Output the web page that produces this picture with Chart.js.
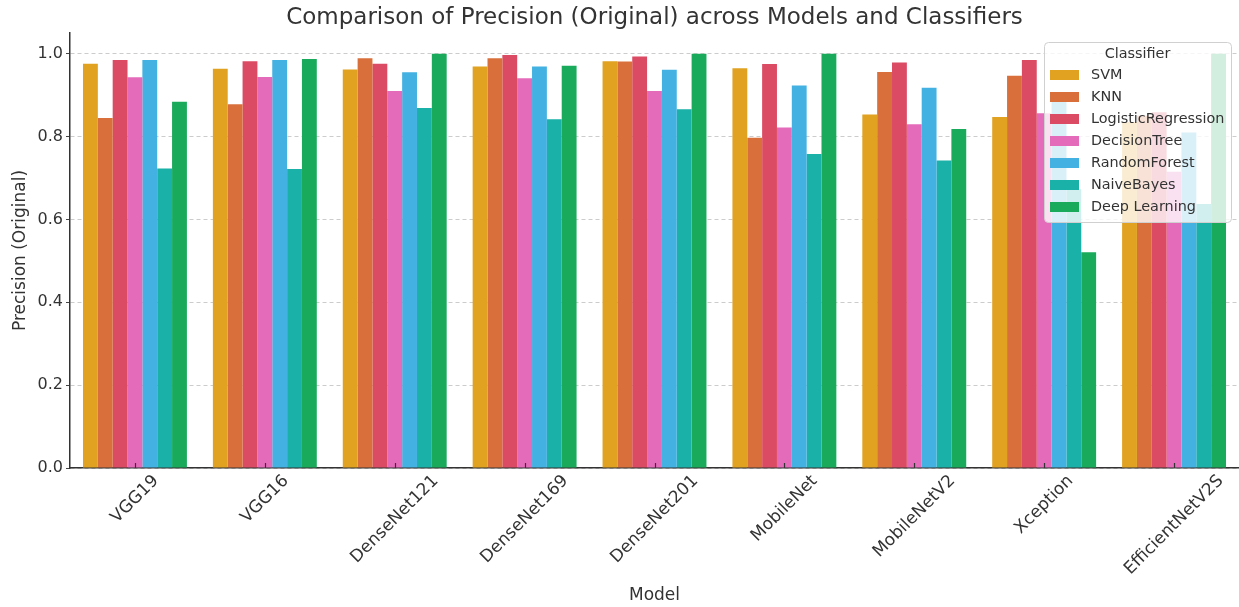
<!DOCTYPE html>
<html>
<head>
<meta charset="utf-8">
<script src="https://cdn.jsdelivr.net/npm/chart.js@4"></script>
<style>
    html, body { margin: 0; padding: 0; background: #fff; }
    #wrap { width: 1239px; height: 607px; }
</style>
</head>
<body>
<div id="wrap"><canvas id="chart" width="1239" height="607"></canvas></div>
<script>
const models = ['VGG19', 'VGG16', 'DenseNet121', 'DenseNet169', 'DenseNet201', 'MobileNet', 'MobileNetV2', 'Xception', 'EfficientNetV2S'];
const classifiers = ['SVM', 'KNN', 'LogisticRegression', 'DecisionTree', 'RandomForest', 'NaiveBayes', 'Deep Learning'];
const yTicks = [0, 0.2, 0.4, 0.6, 0.8, 1.0];

// precision per classifier, one value per model (same order as models)
const svm = [0.976, 0.964, 0.962, 0.969, 0.982, 0.965, 0.853, 0.847, 0.835];
const knn = [0.845, 0.878, 0.989, 0.989, 0.981, 0.797, 0.956, 0.947, 0.850];
const logReg = [0.985, 0.982, 0.976, 0.997, 0.993, 0.975, 0.979, 0.985, 0.859];
const decTree = [0.943, 0.944, 0.910, 0.941, 0.910, 0.822, 0.830, 0.856, 0.715];
const randForest = [0.985, 0.985, 0.955, 0.969, 0.961, 0.923, 0.918, 0.885, 0.810];
const naiveBayes = [0.723, 0.722, 0.869, 0.842, 0.866, 0.758, 0.742, 0.673, 0.637];
const deepLearning = [0.884, 0.987, 1.0, 0.971, 1.0, 1.0, 0.818, 0.521, 1.0];

const seriesValues = [svm, knn, logReg, decTree, randForest, naiveBayes, deepLearning];
const colors = ['#e0a220', '#d9703b', '#dc4b64', '#e46bb9', '#43b2e2', '#19b1a8', '#1aaa5b'];

const FONT = "'DejaVu Sans', sans-serif";
const TITLE = 'Comparison of Precision (Original) across Models and Classifiers';
Chart.defaults.font.family = FONT;
Chart.defaults.color = '#333';

// title centred over the plot, x labels centred on their ticks (matplotlib style)
const extras = {
    id: 'extras',
    afterDraw(chart) {
        const ctx = chart.ctx;
        const area = chart.chartArea;
        const xScale = chart.scales.x;
        ctx.save();

        ctx.fillStyle = '#333';
        ctx.font = `23px ${FONT}`;
        ctx.textAlign = 'center';
        ctx.textBaseline = 'middle';
        ctx.fillText(TITLE, (area.left + area.right) / 2, 18);

        // inward tick marks on the x axis
        ctx.strokeStyle = '#333';
        ctx.lineWidth = 1.2;
        models.forEach((m, i) => {
            const px = Math.round(xScale.getPixelForTick(i)) + 0.5;
            ctx.beginPath();
            ctx.moveTo(px, area.bottom);
            ctx.lineTo(px, area.bottom - 5);
            ctx.stroke();
        });

        ctx.font = `17px ${FONT}`;
        const s = Math.SQRT1_2;
        models.forEach((m, i) => {
            const px = xScale.getPixelForTick(i);
            const w = ctx.measureText(m).width;
            const h = 15;
            const half = (w * s + h * s) / 2;
            ctx.save();
            ctx.translate(px, area.bottom + 5 + half);
            ctx.rotate(-Math.PI / 4);
            ctx.fillText(m, 0, 0);
            ctx.restore();
        });
        ctx.restore();
    }
};

// legend drawn inside the plot, on top of the bars
const overlayLegend = {
    id: 'overlayLegend',
    afterDraw(chart) {
        const ctx = chart.ctx;
        const x = 1044, y = 42, w = 187, h = 180;
        ctx.save();
        ctx.fillStyle = 'rgba(255,255,255,0.8)';
        ctx.strokeStyle = '#d0d0d0';
        ctx.lineWidth = 1;
        ctx.beginPath();
        ctx.roundRect(x + 0.5, y + 0.5, w, h, 4);
        ctx.fill();
        ctx.stroke();

        ctx.fillStyle = '#333';
        ctx.font = `14.4px ${FONT}`;
        ctx.textAlign = 'center';
        ctx.textBaseline = 'middle';
        ctx.fillText('Classifier', x + w / 2, y + 12);

        ctx.textAlign = 'left';
        chart.data.datasets.forEach((ds, i) => {
            const rowY = y + 33 + i * 22;
            ctx.fillStyle = ds.backgroundColor;
            ctx.fillRect(x + 6, rowY - 5, 29, 10);
            ctx.fillStyle = '#333';
            ctx.fillText(ds.label, x + 47, rowY);
        });
        ctx.restore();
    }
};

new Chart(document.getElementById('chart').getContext('2d'), {
    type: 'bar',
    data: {
        labels: models,
        datasets: classifiers.map((name, i) => ({
            label: name,
            data: seriesValues[i],
            backgroundColor: colors[i],
            borderWidth: 0,
            categoryPercentage: 0.8,
            barPercentage: 1.0,
        }))
    },
    options: {
        responsive: false,
        animation: false,
        layout: { padding: { left: 0, right: 0, top: 33, bottom: 0 } },
        plugins: {
            legend: { display: false },
            tooltip: { enabled: false },
            title: { display: false }
        },
        scales: {
            x: {
                offset: true,
                grid: { display: false, drawTicks: false },
                border: { color: '#333', width: 1.5 },
                ticks: { display: false },
                title: {
                    display: true,
                    text: 'Model',
                    font: { size: 17 },
                    color: '#333',
                    padding: { top: 0, bottom: 1 }
                },
                afterFit(scale) { scale.height = 139; }
            },
            y: {
                min: 0,
                max: 1.05,
                grid: { color: '#cccccc', tickColor: '#444', tickLength: 4 },
                border: { color: '#333', width: 1.5, dash: [4, 3] },
                ticks: {
                    stepSize: 0.2,
                    font: { size: 16 },
                    color: '#333',
                    padding: 3,
                    callback: v => v.toFixed(1)
                },
                afterBuildTicks(scale) {
                    scale.ticks = yTicks.map(v => ({ value: v }));
                },
                title: {
                    display: true,
                    text: 'Precision (Original)',
                    font: { size: 17 },
                    color: '#333',
                    padding: { top: 10, bottom: 0 }
                },
                afterFit(scale) { scale.width = 70; }
            }
        }
    },
    plugins: [extras, overlayLegend]
});
</script>
</body>
</html>
